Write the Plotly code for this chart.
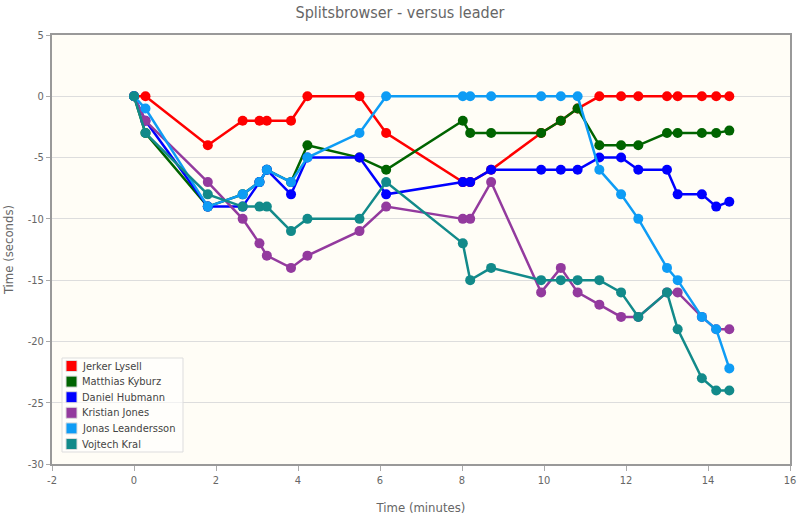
import plotly.graph_objects as go

# Control times (minutes) – shared x for all runners
controls = [0, 0.28, 1.8, 2.65, 3.06, 3.24, 3.83, 4.23, 5.5, 6.15, 8.02, 8.2,
            8.71, 9.93, 10.41, 10.82, 11.35, 11.88, 12.3, 13.0, 13.26, 13.85, 14.2, 14.52]

names = ["Jerker Lysell", "Matthias Kyburz", "Daniel Hubmann",
         "Kristian Jones", "Jonas Leandersson", "Vojtech Kral"]
colors = ["#FF0000", "#006400", "#0000FF", "#933A9E", "#0E9CF5", "#128A8A"]

jerker = [0, 0, -4, -2, -2, -2, -2, 0, 0, -3, -7, -7, -6, -3, -2, -1, 0, 0, 0, 0, 0, 0, 0, 0]
matthias = [0, -3, -9, -8, -7, -6, -7, -4, -5, -6, -2, -3, -3, -3, -2, -1, -4, -4, -4, -3, -3, -3, -3, -2.8]
daniel = [0, -2, -9, -9, -7, -6, -8, -5, -5, -8, -7, -7, -6, -6, -6, -6, -5, -5, -6, -6, -8, -8, -9, -8.6]
kristian = [0, -2, -7, -10, -12, -13, -14, -13, -11, -9, -10, -10, -7, -16, -14, -16, -17, -18, -18, -16, -16, -18, -19, -19]
jonas = [0, -1, -9, -8, -7, -6, -7, -5, -3, 0, 0, 0, 0, 0, 0, 0, -6, -8, -10, -14, -15, -18, -19, -22.2]
vojtech = [0, -3, -8, -9, -9, -9, -11, -10, -10, -7, -12, -15, -14, -15, -15, -15, -15, -16, -18, -16, -19, -23, -24, -24]

series = [jerker, matthias, daniel, kristian, jonas, vojtech]

x_ticks = [-2, 0, 2, 4, 6, 8, 10, 12, 14, 16]
y_ticks = [5, 0, -5, -10, -15, -20, -25, -30]

fig = go.Figure()
for name, col, vals in zip(names, colors, series):
    fig.add_trace(go.Scatter(
        x=controls, y=vals, mode="lines+markers", name=name,
        line=dict(color=col, width=2.5),
        marker=dict(color=col, size=10),
        showlegend=False,
    ))

font_family = "DejaVu Sans Condensed, Open Sans, sans-serif"

# Compact legend box (drawn in paper coordinates of the plot area)
W_PLOT, H_PLOT = 738.0, 429.0
shapes = [dict(type="rect", xref="paper", yref="paper",
               x0=10 / W_PLOT, x1=131 / W_PLOT, y0=12 / H_PLOT, y1=106 / H_PLOT,
               fillcolor="rgba(255,255,255,0.6)", line=dict(color="#DDDDDD", width=1),
               layer="above")]
annotations = []
for i, (name, col) in enumerate(zip(names, colors)):
    yc = (98 - 15.6 * i) / H_PLOT
    shapes.append(dict(type="rect", xref="paper", yref="paper",
                       x0=14 / W_PLOT, x1=25 / W_PLOT,
                       y0=yc - 5.5 / H_PLOT, y1=yc + 5.5 / H_PLOT,
                       fillcolor=col, line=dict(color="#DDDDDD", width=1), layer="above"))
    annotations.append(dict(text=name, xref="paper", yref="paper",
                            x=28 / W_PLOT, y=yc, xanchor="left", yanchor="middle",
                            showarrow=False,
                            font=dict(family=font_family, size=11, color="#444444")))

fig.update_layout(
    width=800, height=526,
    margin=dict(l=52, r=10, t=35, b=62, autoexpand=False),
    paper_bgcolor="white",
    plot_bgcolor="#FFFDF6",
    title=dict(text="Splitsbrowser - versus leader", x=0.5, xanchor="center",
               y=1 - 12 / 526, yanchor="middle", automargin=False,
               font=dict(family=font_family, size=16, color="#666666")),
    font=dict(family=font_family, color="#666666"),
    showlegend=False,
    shapes=shapes,
    annotations=annotations,
    xaxis=dict(range=[-2, 16], tickvals=x_ticks, ticktext=[str(v) for v in x_ticks],
               automargin=False,
               showgrid=False, zeroline=False, showline=True, linecolor="#999999",
               linewidth=2, mirror=True, ticks="outside", ticklen=5, tickcolor="#AAAAAA",
               tickfont=dict(size=11, color="#666666"),
               title=dict(text="Time (minutes)", font=dict(size=13, color="#666666"), standoff=17)),
    yaxis=dict(range=[-30, 5], tickvals=y_ticks, ticktext=[str(v) for v in y_ticks],
               automargin=False,
               showgrid=True, gridcolor="#DDDDDD", gridwidth=1, zeroline=False,
               showline=True, linecolor="#999999", linewidth=2, mirror=True,
               ticks="outside", ticklen=4, tickcolor="#AAAAAA",
               tickfont=dict(size=11, color="#666666"),
               title=dict(text="Time (seconds)", font=dict(size=13, color="#666666"), standoff=11)),
)

fig.write_html("out.html", config={"displayModeBar": False},
               post_script="document.body.style.margin='0';document.body.style.overflow='hidden';")
